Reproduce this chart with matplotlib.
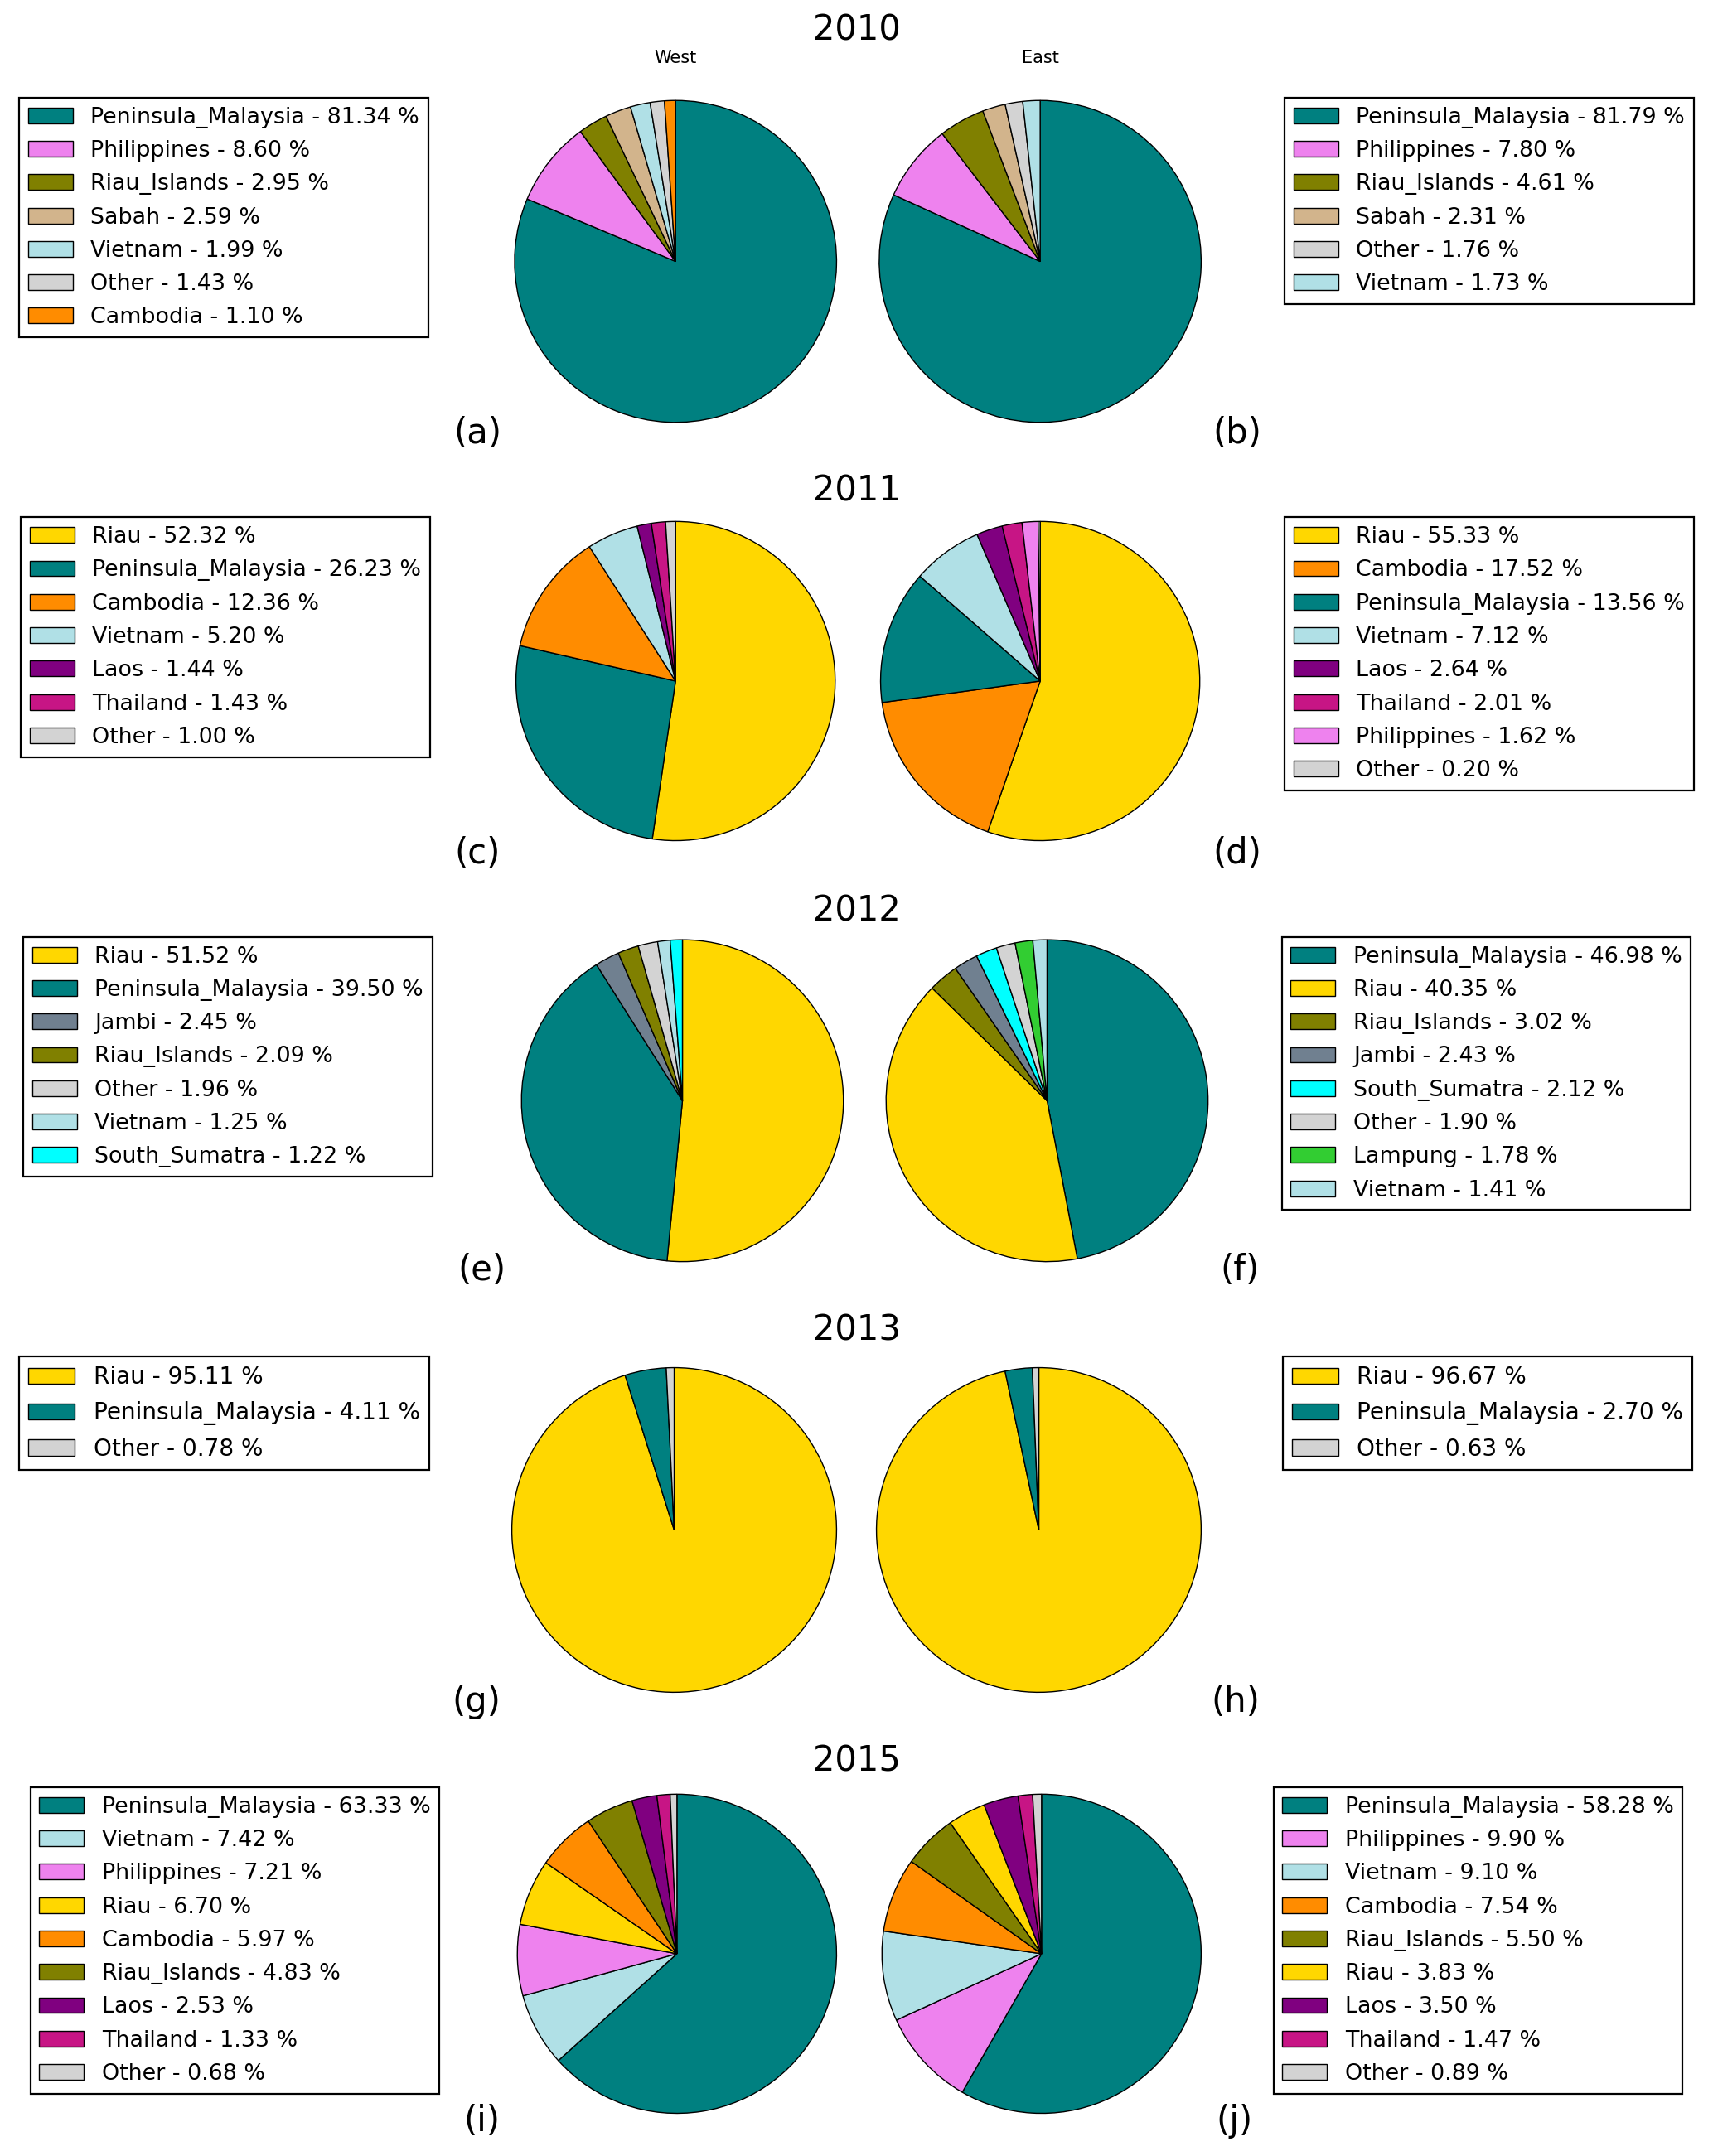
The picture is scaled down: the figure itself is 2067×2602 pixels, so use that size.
import matplotlib
matplotlib.use("Agg")
import matplotlib.pyplot as plt

# region colours
region_colors = {
    "Peninsula_Malaysia": "#008080",
    "Philippines": "#EE82EE",
    "Riau_Islands": "#808000",
    "Sabah": "#D2B48C",
    "Vietnam": "#B0E0E6",
    "Other": "#D3D3D3",
    "Cambodia": "#FF8C00",
    "Riau": "#FFD700",
    "Laos": "#800080",
    "Thailand": "#C71585",
    "Jambi": "#708090",
    "South_Sumatra": "#00FFFF",
    "Lampung": "#32CD32",
}

years = ["2010", "2011", "2012", "2013", "2015"]
panel_tags = ["a", "b", "c", "d", "e", "f", "g", "h", "i", "j"]

# 2010
west_2010_names = ["Peninsula_Malaysia", "Philippines", "Riau_Islands", "Sabah", "Vietnam", "Other", "Cambodia"]
west_2010_vals = [81.34, 8.60, 2.95, 2.59, 1.99, 1.43, 1.10]
east_2010_names = ["Peninsula_Malaysia", "Philippines", "Riau_Islands", "Sabah", "Other", "Vietnam"]
east_2010_vals = [81.79, 7.80, 4.61, 2.31, 1.76, 1.73]

# 2011
west_2011_names = ["Riau", "Peninsula_Malaysia", "Cambodia", "Vietnam", "Laos", "Thailand", "Other"]
west_2011_vals = [52.32, 26.23, 12.36, 5.20, 1.44, 1.43, 1.00]
east_2011_names = ["Riau", "Cambodia", "Peninsula_Malaysia", "Vietnam", "Laos", "Thailand", "Philippines", "Other"]
east_2011_vals = [55.33, 17.52, 13.56, 7.12, 2.64, 2.01, 1.62, 0.20]

# 2012
west_2012_names = ["Riau", "Peninsula_Malaysia", "Jambi", "Riau_Islands", "Other", "Vietnam", "South_Sumatra"]
west_2012_vals = [51.52, 39.50, 2.45, 2.09, 1.96, 1.25, 1.22]
east_2012_names = ["Peninsula_Malaysia", "Riau", "Riau_Islands", "Jambi", "South_Sumatra", "Other", "Lampung", "Vietnam"]
east_2012_vals = [46.98, 40.35, 3.02, 2.43, 2.12, 1.90, 1.78, 1.41]

# 2013
west_2013_names = ["Riau", "Peninsula_Malaysia", "Other"]
west_2013_vals = [95.11, 4.11, 0.78]
east_2013_names = ["Riau", "Peninsula_Malaysia", "Other"]
east_2013_vals = [96.67, 2.70, 0.63]

# 2015
west_2015_names = ["Peninsula_Malaysia", "Vietnam", "Philippines", "Riau", "Cambodia",
                   "Riau_Islands", "Laos", "Thailand", "Other"]
west_2015_vals = [63.33, 7.42, 7.21, 6.70, 5.97, 4.83, 2.53, 1.33, 0.68]
east_2015_names = ["Peninsula_Malaysia", "Philippines", "Vietnam", "Cambodia", "Riau_Islands",
                   "Riau", "Laos", "Thailand", "Other"]
east_2015_vals = [58.28, 9.90, 9.10, 7.54, 5.50, 3.83, 3.50, 1.47, 0.89]

panels = [
    (west_2010_names, west_2010_vals), (east_2010_names, east_2010_vals),
    (west_2011_names, west_2011_vals), (east_2011_names, east_2011_vals),
    (west_2012_names, west_2012_vals), (east_2012_names, east_2012_vals),
    (west_2013_names, west_2013_vals), (east_2013_names, east_2013_vals),
    (west_2015_names, west_2015_vals), (east_2015_names, east_2015_vals),
]

# layout, measured on a 1245 x 1567 grid (x right, y down)
W, H = 1245.0, 1567.0
title_y = [22, 357, 662, 967, 1280]
row_legend_fs = [9.7, 9.7, 9.7, 10.05, 9.7]
pie_xy = [(491, 190, 117), (756, 190, 117),
          (491, 495, 116), (756, 495, 116),
          (496, 800, 117), (761, 800, 117),
          (490, 1112, 118), (755, 1112, 118),
          (492, 1420, 116), (757, 1420, 116)]
legend_xy = [(14, 71), (1231, 71),
             (15, 376), (1231, 376),
             (17, 681), (1229, 681),
             (14, 986), (1230, 986),
             (22, 1299), (1223, 1299)]
tag_xy = [(347, 315), (899, 315),
          (347, 620), (899, 620),
          (350, 923), (901, 923),
          (346, 1237), (898, 1237),
          (350, 1542), (897, 1542)]

fig = plt.figure(figsize=(10.335, 13.01), dpi=200)

for k, (names, vals) in enumerate(panels):
    cx, cy, r = pie_xy[k]
    ax = fig.add_axes([(cx - r) / W, 1 - (cy + r) / H, 2 * r / W, 2 * r / H])
    cols = [region_colors[n] for n in names]
    wedges, _ = ax.pie(vals, colors=cols, startangle=90, counterclock=False,
                       wedgeprops=dict(edgecolor="black", linewidth=0.5))
    ax.set_xlim(-1.0, 1.0)
    ax.set_ylim(-1.0, 1.0)
    ax.axis("off")

    labels = ["%s - %.2f %%" % (n, v) for n, v in zip(names, vals)]
    lx, ly = legend_xy[k]
    loc = "upper left" if k % 2 == 0 else "upper right"
    leg = fig.legend(wedges, labels, loc=loc, bbox_to_anchor=(lx / W, 1 - ly / H),
                     bbox_transform=fig.transFigure, borderaxespad=0,
                     fontsize=row_legend_fs[k // 2], labelspacing=0.53,
                     fancybox=False, framealpha=1)
    leg.get_frame().set_edgecolor("black")
    leg.get_frame().set_linewidth(0.8)

    tx, ty = tag_xy[k]
    fig.text(tx / W, 1 - ty / H, "(%s)" % panel_tags[k], fontsize=15,
             ha="center", va="center")

for i, yr in enumerate(years):
    fig.text(0.5, 1 - title_y[i] / H, yr, fontsize=15, ha="center", va="center")

fig.text(491 / W, 1 - 42 / H, "West", fontsize=7.5, ha="center", va="center")
fig.text(756 / W, 1 - 42 / H, "East", fontsize=7.5, ha="center", va="center")

fig.savefig("out.png", dpi=200, facecolor="white")
